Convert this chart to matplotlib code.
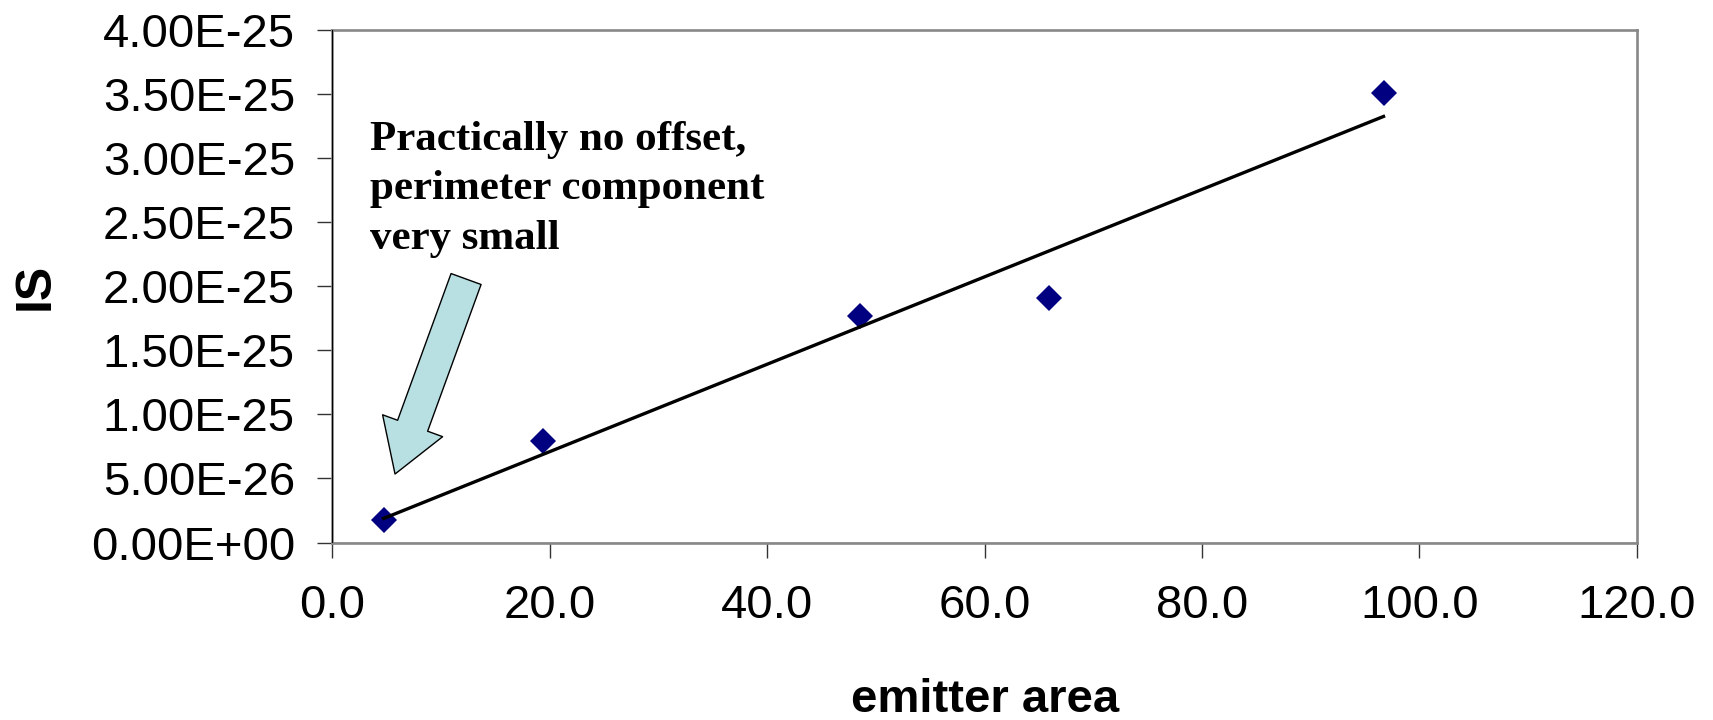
import numpy as np
import matplotlib
matplotlib.use("Agg")
import matplotlib.pyplot as plt
from matplotlib.ticker import FuncFormatter

emitter_area = [4.7, 19.4, 48.5, 65.9, 96.7]
IS = [1.79e-26, 7.9e-26, 1.77e-25, 1.91e-25, 3.51e-25]
note = "Practically no offset,\nperimeter component\nvery small"

fig = plt.figure(figsize=(17.13, 7.2), dpi=100)
ax = fig.add_axes([0.1941, 0.2465, 0.9555 - 0.1941, 0.9583 - 0.2465])

ax.plot(emitter_area, IS, "D", color="#000080", markersize=13, markeredgewidth=0, zorder=3)

# linear trendline
slope, icpt = np.polyfit(emitter_area, IS, 1)
xs = np.array([emitter_area[0], emitter_area[-1]])
ax.plot(xs, slope * xs + icpt, "k-", lw=2.4, zorder=4)

ax.set_xlim(0, 120)
ax.set_ylim(0, 4e-25)
ax.set_xticks(np.arange(0, 121, 20))
ax.set_yticks(np.arange(0, 4.01e-25, 0.5e-25))
ax.xaxis.set_major_formatter(FuncFormatter(lambda v, p: "%.1f" % v))
ax.yaxis.set_major_formatter(FuncFormatter(lambda v, p: ("%.2E" % v).replace("E-0", "E-") if v != 0 else "0.00E+00"))

for s in ax.spines.values():
  s.set_color("#888888")
  s.set_linewidth(1.9)
ax.axhline(0, color="k", lw=0.8, zorder=5)
ax.axvline(0, color="k", lw=0.8, zorder=5)

ax.tick_params(direction="out", length=11, width=1, color="#333333")
ax.tick_params(axis="y", pad=16, labelsize=34)
ax.tick_params(axis="x", pad=19, labelsize=34)
for lab in ax.get_xticklabels() + ax.get_yticklabels():
  lab.set_family("Liberation Sans")

ax.set_xlabel("emitter area", fontsize=34, fontweight="bold", family="Liberation Sans", labelpad=36)
ax.set_ylabel("IS", fontsize=36, fontweight="bold", family="Liberation Sans", labelpad=23)

fig.text(370 / 1713, 1 - 121 / 720, note, fontsize=31, fontweight="bold", family="Liberation Serif",
         va="top", ha="left", linespacing=1.39)

# callout arrow, positions in axes fraction
ax.annotate("", xy=((395 - 332.5) / 1303.5, (542.5 - 474) / 512.5),
            xytext=((466 - 332.5) / 1303.5, (542.5 - 279) / 512.5),
            xycoords="axes fraction", textcoords="axes fraction",
            arrowprops=dict(arrowstyle="simple,head_length=37,head_width=46,tail_width=23",
                            mutation_scale=1, shrinkA=0, shrinkB=0,
                            fc="#B8E0E3", ec="black", lw=1))

fig.savefig("out.png", dpi=100)
